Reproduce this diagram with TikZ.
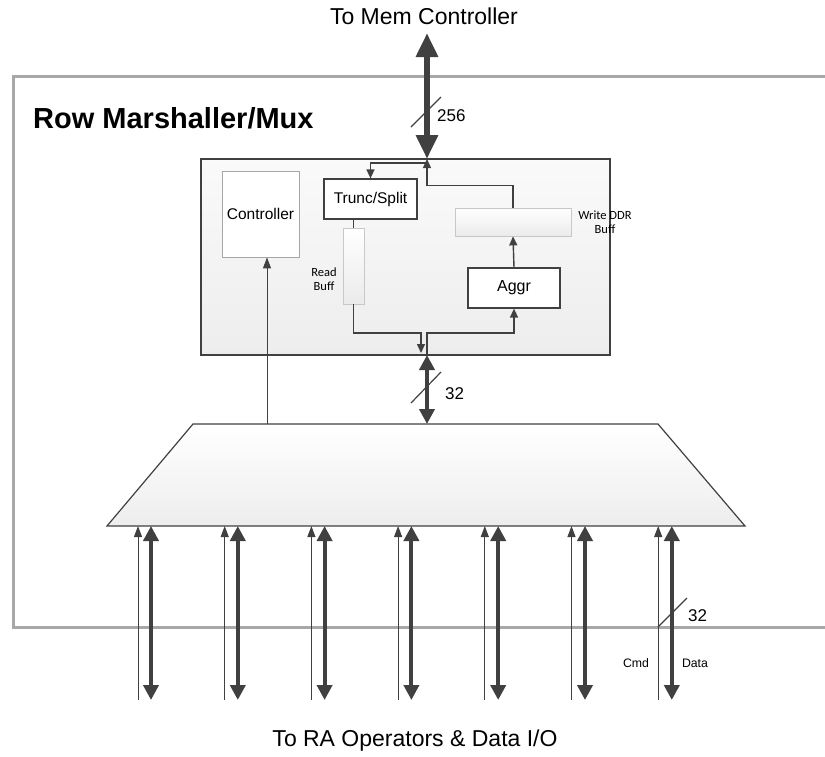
\documentclass[tikz,border=0pt]{standalone}
\usepackage{fontspec}
\setmainfont{Liberation Sans}
\newfontfamily\calib{Carlito}
\usetikzlibrary{arrows.meta}
\definecolor{wiregray}{RGB}{64,64,64}
\definecolor{framegray}{RGB}{168,168,168}
\definecolor{buffline}{RGB}{200,200,200}

\begin{document}
\begin{tikzpicture}[
    x=1pt, y=-1pt,
    block/.style={rectangle, draw=wiregray, line width=1.2pt, fill=white, inner sep=0pt},
    buff/.style={rectangle, draw=buffline, line width=0.8pt, top color=white, bottom color=black!8, inner sep=0pt},
    wire/.style={draw=wiregray, line width=1.4pt, -{Triangle[width=8pt,length=9pt]}},
    sig/.style={draw=wiregray, line width=1pt, -{Triangle[width=8pt,length=11pt]}},
    bus/.style={draw=wiregray, line width=4pt, {Triangle[width=15pt,length=15pt]}-{Triangle[width=15pt,length=15pt]}},
    widebus/.style={draw=wiregray, line width=6pt, {Triangle[width=21pt,length=24pt]}-{Triangle[width=21pt,length=24pt]}},
    slash/.style={draw=wiregray, line width=1.2pt},
    small/.style={font=\calib\fontsize{12.5}{14.5}\selectfont, align=center, inner sep=0pt},
    width/.style={font=\fontsize{17}{19}\selectfont, anchor=west, inner sep=0pt}
]
\useasboundingbox (0,0) rectangle (825,756);

% Outer frame
\draw[framegray, line width=3pt] (830,76) -- (13,76) -- (13,627) -- (830,627);
\node[font=\bfseries\fontsize{29}{33}\selectfont, anchor=west, inner sep=0pt] (title) at (33,118) {Row Marshaller/Mux};

% Inner block
\node[rectangle, draw=wiregray, line width=1.2pt, top color=black!2, bottom color=black!7,
      minimum width=409, minimum height=196] (inner) at (405.5,257) {};
\node[block, draw=black!35, line width=0.8pt, minimum width=77, minimum height=86,
      font=\fontsize{15.5}{18}\selectfont] (ctrl) at (260.5,214) {Controller};
\node[block, minimum width=93, minimum height=40, font=\fontsize{15.5}{18}\selectfont] (trunc) at (370.5,199) {Trunc/Split};
\node[buff, minimum width=21, minimum height=76] (rbuf) at (353.5,266) {};
\node[small] (rbuflbl) at (324,279) {Read\\Buff};
\node[buff, minimum width=116, minimum height=28] (wbuf) at (513,222) {};
\node[small] (wbuflbl) at (605,222) {Write DDR\\Buff};
\node[block, minimum width=92, minimum height=40, font=\fontsize{16}{18}\selectfont] (aggr) at (514,288) {Aggr};

% Mux
\draw[draw=wiregray, line width=1.2pt, top color=white, bottom color=black!7]
    (193,424) -- (658,424) -- (745,526) -- (107,526) -- cycle;
\coordinate (muxjoin) at (427,424);
\coordinate (ctrljoin) at (267,424);

% Junctions
\coordinate (memtop) at (427,33);
\coordinate (jtop) at (427,159);
\coordinate (jtop2) at (427,163);
\coordinate (jbot) at (427,355);

% Mem bus
\node[font=\fontsize{23}{26}\selectfont] (memlbl) at (424,16) {To Mem Controller};
\draw[widebus] (memtop) -- (jtop);
\draw[slash] (411,127) -- (441,97);
\node[width] (w256) at (437,116) {256};

% Internal paths
\draw[wire] (jtop2) -| (trunc.north);
\draw[wire] (wbuf.north) -- ++(0,-22) -| (jtop);
\draw[draw=wiregray, line width=1.4pt] (trunc.south -| rbuf.north) -- (rbuf.north);
\draw[wire] (rbuf.south) |- ([xshift=-6pt, yshift=22pt]jbot) -- ([xshift=-6pt, yshift=2pt]jbot);
\draw[wire] (jbot) -- ([yshift=22pt]jbot) -| (aggr.south);
\draw[wire] (aggr.north) -- (wbuf.south);

% Mux bus and controller
\draw[bus] (muxjoin) -- (jbot);
\draw[slash] (411,403) -- (441,372);
\node[width] (w32) at (445,394) {32};
\draw[sig] (ctrljoin) -- (ctrl.south -| ctrljoin);

% Operator ports
\foreach \i in {0,...,6} {
    \coordinate (cmdbot\i) at (138+86.7*\i,700);
    \coordinate (cmdtop\i) at (138+86.7*\i,526);
    \coordinate (databot\i) at (151+86.8*\i,700);
    \coordinate (datatop\i) at (151+86.8*\i,526);
    \draw[sig] (cmdbot\i) -- (cmdtop\i);
    \draw[bus] (databot\i) -- (datatop\i);
}
\draw[slash] (658,627) -- (687,598);
\node[width] (p32) at (688,616) {32};
\node[font=\fontsize{12.3}{14}\selectfont] (cmdlbl) at (636,663) {Cmd};
\node[font=\fontsize{12.3}{14}\selectfont] (datalbl) at (695,663) {Data};
\node[font=\fontsize{23}{26}\selectfont] (ralbl) at (415,741) {To RA Operators \& Data I/O};

\end{tikzpicture}
\end{document}
